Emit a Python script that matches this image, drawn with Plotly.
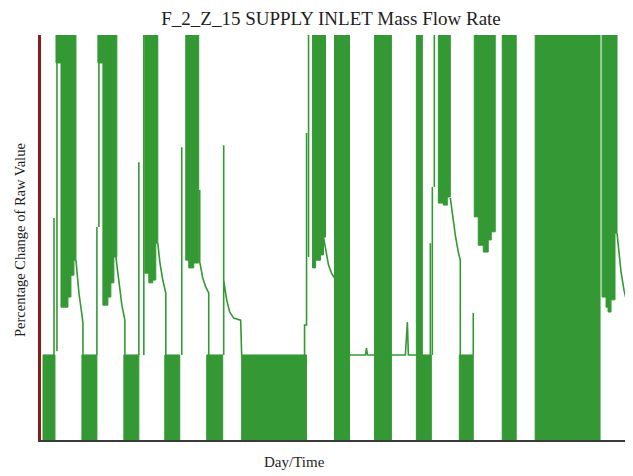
import plotly.graph_objects as go

# ---- data (time index on x, percentage change on y) ----
TITLE = "F_2_Z_15 SUPPLY INLET Mass Flow Rate"
X_TITLE = "Day/Time"
Y_TITLE = "Percentage Change of Raw Value"

BASE = 21.0          # resting level of the signal
TOP = 100.0          # saturation level

# dense oscillation between 0 and the resting level
low_start = [2, 41, 83, 124, 166, 201, 378, 419, 587]
low_end   = [14, 56, 98, 139, 182, 266, 391, 433, 590]

# dense oscillation over the full range 0..100
full_start = [294, 334, 376, 462, 495]
full_end   = [309, 351, 382, 476, 560]

# dense oscillation between a floor value and 100
high_start = [15, 20, 27, 30, 33,
              57, 62, 67, 70, 73,
              104, 108, 112, 115,
              145, 148, 153,
              272, 275, 280, 283,
              398, 403, 407,
              434, 438, 443, 448, 451,
              562, 566, 568, 571, 575]
high_end   = [20, 27, 30, 33, 35,
              62, 67, 70, 73, 76,
              108, 112, 115, 117,
              148, 153, 158,
              275, 280, 283, 285,
              403, 407, 410,
              438, 443, 448, 451, 455,
              566, 568, 571, 575, 577]
high_floor = [93.1, 32.8, 35.3, 40.7, 44.4,
              93.1, 33.3, 35.3, 38.8, 45.2,
              41.2, 38.8, 39.5, 48.6,
              44.4, 42.5, 43.7,
              42.5, 44.4, 45.7, 50.1,
              58.5, 58.0, 60.0,
              55.1, 48.1, 46.4, 49.4, 51.4,
              35.3, 32.8, 31.6, 34.6, 51.1]

# single-sample path segments (spikes, decays, resting line)
line_segments = [
    [(13, 21), (13, 54.8)],
    [(16, 22), (16, 93.1)],
    [(35, 44.4), (38, 36.3), (41, 30.9), (42, 28.9), (42, 21)],
    [(56, 21), (56, 52.6)],
    [(58, 93.1), (58, 52.6)],
    [(75, 45.2), (78, 39.5), (81, 33.3), (84, 29.6), (84, 21)],
    [(98, 21), (98, 68.6)],
    [(103, 21), (103, 100)],
    [(117, 48.6), (119, 44.0), (122, 39.5), (125, 36.3), (125, 21)],
    [(141, 21), (141, 72.3)],
    [(159, 61.7), (159, 44.0), (162, 40.0), (165, 37.8), (168, 36.3), (168, 21)],
    [(183, 21), (183, 72.8), (183, 39.5), (186, 34.6), (189, 31.6), (193, 30.1), (200, 29.6), (201, 21)],
    [(264, 21), (264, 28.4), (266, 28.4), (266, 75.8)],
    [(268, 45.2), (268, 100)],
    [(283, 50.1), (285, 46.9), (288, 43.2), (291, 41.2), (294, 40.0)],
    [(309, 21), (325, 21), (326, 22.7), (327, 21), (334, 21)],
    [(351, 21), (365, 21), (367, 29.1), (368, 21), (376, 21)],
    [(390, 21), (390, 48.6)],
    [(392, 21), (392, 62.5)],
    [(394, 62.5), (394, 100)],
    [(410, 59.8), (412, 55.6), (415, 50.6), (418, 46.4), (420, 44.4), (420, 21)],
    [(433, 21), (433, 31.4)],
    [(577, 51.1), (579, 45.7), (581, 41.5), (584, 37.0), (587, 33.8), (587, 21)],
]

GREEN = "#349934"

# ---- build polygons from the data ----
def rects(starts, ends, lows, highs):
    xs, ys = [], []
    for x0, x1, lo, hi in zip(starts, ends, lows, highs):
        xs += [x0, x1, x1, x0, x0, None]
        ys += [lo, lo, hi, hi, lo, None]
    return xs, ys

bx, by = [], []
for s, e, lo, hi in [
    (low_start, low_end, [0] * len(low_start), [BASE] * len(low_start)),
    (full_start, full_end, [0] * len(full_start), [TOP] * len(full_start)),
    (high_start, high_end, high_floor, [TOP] * len(high_start)),
]:
    xs, ys = rects(s, e, lo, hi)
    bx += xs
    by += ys

lx, ly = [], []
for seg in line_segments:
    for x, y in seg:
        lx.append(x)
        ly.append(y)
    lx.append(None)
    ly.append(None)

fig = go.Figure()
fig.add_trace(go.Scatter(x=bx, y=by, mode="lines", fill="toself",
                         fillcolor=GREEN, line=dict(color=GREEN, width=1),
                         hoverinfo="skip", showlegend=False))
fig.add_trace(go.Scatter(x=lx, y=ly, mode="lines",
                         line=dict(color=GREEN, width=1.6),
                         showlegend=False))

W, H = 625, 468   # page adds an 8px body margin
fig.update_layout(
    width=W, height=H,
    margin=dict(l=33, r=3, t=27, b=36),
    paper_bgcolor="white", plot_bgcolor="white",
    title=dict(text=TITLE, x=323 / W, xref="container", xanchor="center",
               y=1 - 10 / H, yref="container", yanchor="middle",
               font=dict(family="Liberation Serif", size=19, color="#1e1e1e")),
    xaxis=dict(range=[0, 590], showgrid=False, zeroline=False,
               showticklabels=False, ticks="", showline=True,
               linecolor="#3a3a3a", linewidth=2),
    yaxis=dict(range=[0, 100], showgrid=False, zeroline=False,
               showticklabels=False, ticks="", showline=True,
               linecolor="#8b1a1a", linewidth=3),
    annotations=[
        dict(text=Y_TITLE, xref="paper", yref="paper",
             x=(20 - 41) / 590, y=0.494, textangle=-90, showarrow=False,
             xanchor="center", yanchor="middle",
             font=dict(family="Liberation Serif", size=14.5, color="#1e1e1e")),
        dict(text=X_TITLE, xref="paper", yref="paper",
             x=(295 - 41) / 590, y=-22 / 405, showarrow=False,
             xanchor="center", yanchor="middle",
             font=dict(family="Liberation Serif", size=15, color="#1e1e1e")),
    ],
)

fig.write_html("out.html")
